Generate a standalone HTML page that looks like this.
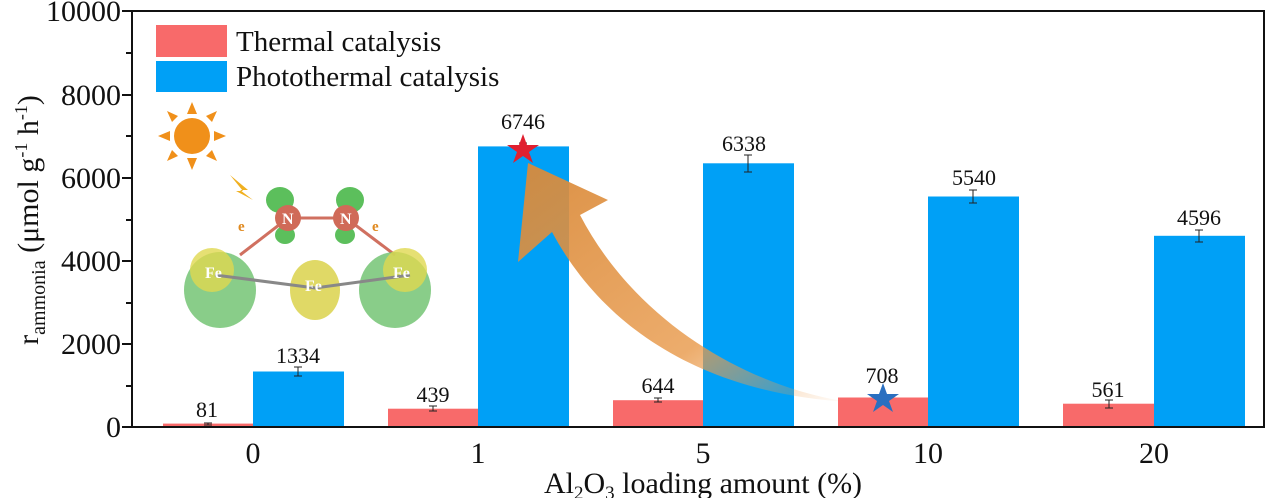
<!DOCTYPE html>
<html><head><meta charset="utf-8"><style>
html,body{margin:0;padding:0;background:#fff}
svg{display:block;font-family:"Liberation Serif","DejaVu Serif",serif}
svg text{font-family:"Liberation Serif","DejaVu Serif",serif;fill:#111}
</style></head><body>
<svg width="1268" height="498" viewBox="0 0 1268 498" xmlns="http://www.w3.org/2000/svg" font-family="Liberation Serif, DejaVu Serif, serif">
<defs>
<linearGradient id="ag" x1="1" y1="1" x2="0" y2="0">
<stop offset="0" stop-color="#f0a050" stop-opacity="0"/>
<stop offset="0.35" stop-color="#e89848" stop-opacity="0.8"/>
<stop offset="1" stop-color="#d98a3a" stop-opacity="0.95"/>
</linearGradient>
</defs>
<g fill="#f86a6a">
<rect x="163" y="423.6" width="90" height="3.4"/>
<rect x="388" y="408.7" width="90" height="18.3"/>
<rect x="613" y="400.2" width="90" height="26.8"/>
<rect x="838" y="397.5" width="90" height="29.5"/>
<rect x="1063" y="403.7" width="91" height="23.3"/>
</g>
<g fill="#00a0f6">
<rect x="253" y="371.5" width="91" height="55.5"/>
<rect x="478" y="146.4" width="91" height="280.6"/>
<rect x="703" y="163.3" width="91" height="263.7"/>
<rect x="928" y="196.5" width="91" height="230.5"/>
<rect x="1154" y="235.8" width="91" height="191.2"/>
</g>
<g stroke="#222" stroke-width="1">
<path d="M208 423v2M204 423h8M204 425h8"/>
<path d="M298 367v9M294 367h8M294 376h8"/>
<path d="M433 406v5M429 406h8M429 411h8"/>
<path d="M523 143v8M519 143h8M519 151h8"/>
<path d="M658 398v4M654 398h8M654 402h8"/>
<path d="M748 155v17M744 155h8M744 172h8"/>
<path d="M973 190v13M969 190h8M969 203h8"/>
<path d="M1199 230v12M1195 230h8M1195 242h8"/>
<path d="M1109 400v8M1105 400h8M1105 408h8"/>
</g>
<path d="M850 402 C760 390 640 330 580 215 L608 200 L528 163 L518 262 L552 232 C610 340 720 395 850 402 Z" fill="url(#ag)"/>
<polygon points="523,134 527,145 539,145 529,152 533,163 523,156 513,163 517,152 507,145 519,145" fill="#e02030"/>
<polygon points="883,383 887,394 899,394 889,401 893,412 883,405 873,412 877,401 867,394 879,394" fill="#2a6fc0"/>
<g>
<circle cx="192" cy="136" r="18" fill="#f0901a"/>
<g fill="#f0901a">
<polygon points="192,102 187,114 197,114"/><polygon points="192,170 187,158 197,158"/>
<polygon points="158,136 170,131 170,141"/><polygon points="226,136 214,131 214,141"/>
<polygon points="167,111 178,116 172,122"/><polygon points="217,111 206,116 212,122"/>
<polygon points="167,161 178,156 172,150"/><polygon points="217,161 206,156 212,150"/>
</g>
<polygon points="230,175 248,190 240,190 253,200 236,191 243,191" fill="#f0b020"/>
<ellipse cx="280" cy="200" rx="14" ry="13" fill="#5cbf5c"/>
<ellipse cx="350" cy="200" rx="14" ry="13" fill="#5cbf5c"/>
<ellipse cx="285" cy="235" rx="10" ry="9" fill="#5cbf5c"/>
<ellipse cx="345" cy="235" rx="10" ry="9" fill="#5cbf5c"/>
<path d="M288 218 L346 218 M288 218 L240 255 M346 218 L395 255" stroke="#d07060" stroke-width="3"/>
<circle cx="288" cy="218" r="13" fill="#d06a58"/><circle cx="346" cy="218" r="13" fill="#d06a58"/>
<text x="282" y="224" font-size="16" font-weight="bold" style="fill:#fff">N</text>
<text x="340" y="224" font-size="16" font-weight="bold" style="fill:#fff">N</text>
<ellipse cx="220" cy="290" rx="36" ry="38" fill="#6cc06c" opacity="0.8"/>
<ellipse cx="395" cy="290" rx="36" ry="38" fill="#6cc06c" opacity="0.8"/>
<ellipse cx="315" cy="290" rx="25" ry="30" fill="#d8d040" opacity="0.8"/>
<ellipse cx="212" cy="270" rx="22" ry="22" fill="#e0d850" opacity="0.8"/>
<ellipse cx="405" cy="270" rx="22" ry="22" fill="#e0d850" opacity="0.8"/>
<path d="M215 275 L315 288 L410 275" stroke="#888" stroke-width="3" fill="none"/>
<text x="205" y="278" font-size="16" font-weight="bold" style="fill:#fff">Fe</text>
<text x="305" y="291" font-size="16" font-weight="bold" style="fill:#fff">Fe</text>
<text x="393" y="278" font-size="16" font-weight="bold" style="fill:#fff">Fe</text>
<text x="238" y="231" font-size="15" font-weight="bold" style="fill:#e08a20">e</text>
<text x="372" y="231" font-size="15" font-weight="bold" style="fill:#e08a20">e</text>
</g>
<rect x="132" y="11" width="1132" height="416" fill="none" stroke="#111" stroke-width="2"/>
<g stroke="#111" stroke-width="2">
<path d="M122 427h10M122 344h10M122 261h10M122 178h10M122 95h10M122 11h10"/>
<path d="M126 386h6M126 303h6M126 220h6M126 136h6M126 53h6"/>
</g>
<g font-size="30" text-anchor="end">
<text x="121" y="437">0</text>
<text x="121" y="354">2000</text>
<text x="121" y="271">4000</text>
<text x="121" y="188">6000</text>
<text x="121" y="105">8000</text>
<text x="121" y="21">10000</text>
</g>
<g font-size="30" text-anchor="middle">
<text x="253" y="463">0</text>
<text x="478" y="463">1</text>
<text x="703" y="463">5</text>
<text x="928" y="463">10</text>
<text x="1154" y="463">20</text>
<text x="703" y="493">Al<tspan font-size="19" dy="6">2</tspan><tspan dy="-6">O</tspan><tspan font-size="19" dy="6">3</tspan><tspan dy="-6"> loading amount (%)</tspan></text>
</g>
<text transform="translate(38 220) rotate(-90)" font-size="30" text-anchor="middle">r<tspan font-size="20" dy="7">ammonia</tspan><tspan dy="-7"> (μmol g</tspan><tspan font-size="18" dy="-11">-1</tspan><tspan dy="11"> h</tspan><tspan font-size="18" dy="-11">-1</tspan><tspan dy="11">)</tspan></text>
<g font-size="22" text-anchor="middle">
<text x="207" y="417">81</text>
<text x="298" y="363">1334</text>
<text x="433" y="402">439</text>
<text x="523" y="129">6746</text>
<text x="658" y="393">644</text>
<text x="744" y="151">6338</text>
<text x="882" y="383">708</text>
<text x="974" y="185">5540</text>
<text x="1108" y="397">561</text>
<text x="1199" y="225">4596</text>
</g>
<rect x="156" y="25" width="71" height="32" fill="#f86a6a"/>
<rect x="156" y="61" width="71" height="31" fill="#00a0f6"/>
<text x="236" y="51" font-size="29">Thermal catalysis</text>
<text x="236" y="86" font-size="29">Photothermal catalysis</text>
</svg>
</body></html>
